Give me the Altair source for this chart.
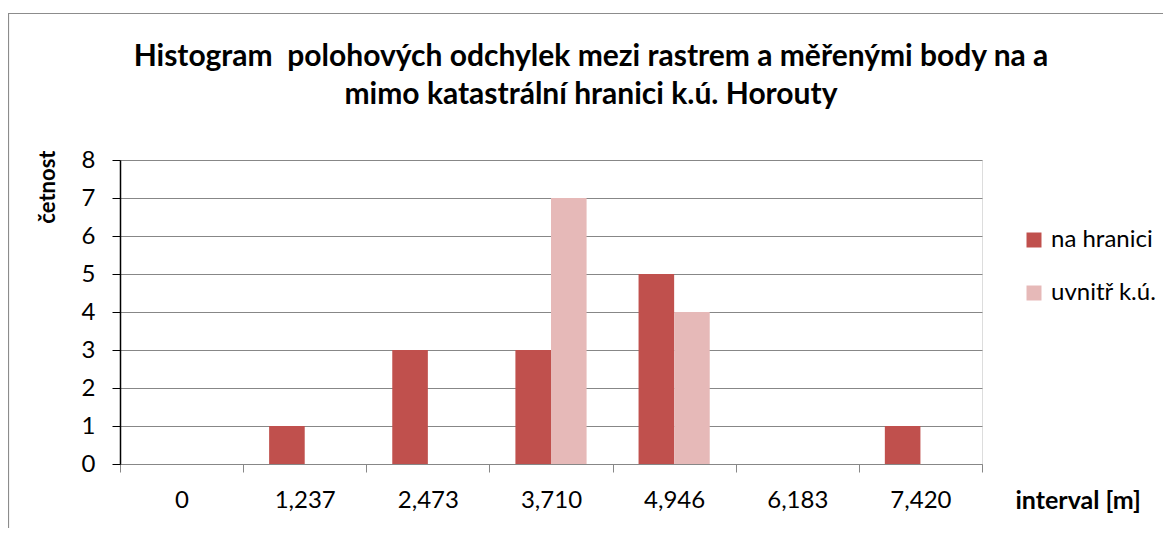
import altair as alt
import pandas as pd

categories = ["0", "1,237", "2,473", "3,710", "4,946", "6,183", "7,420"]
na_hranici = [0, 1, 3, 3, 5, 0, 1]
uvnitr = [0, 0, 0, 7, 4, 0, 0]
series = ["na hranici", "uvnitř k.ú."]
colors = ["#C0504D", "#E6B9B8"]
y_ticks = [0, 1, 2, 3, 4, 5, 6, 7, 8]
title_lines = [
    "Histogram\u00a0 polohových odchylek mezi rastrem a měřenými body na a",
    "mimo katastrální hranici k.ú. Horouty",
]

rows = []
for c, a, b in zip(categories, na_hranici, uvnitr):
    rows.append({"interval": c, "serie": series[0], "cetnost": a})
    rows.append({"interval": c, "serie": series[1], "cetnost": b})
df = pd.DataFrame(rows)

FONT = "Lato"
GRAY = "#878787"
LABEL_SIZE = 24
TITLE_SIZE = 25

bars = alt.Chart(df).mark_bar().encode(
    x=alt.X(
        "interval:N",
        sort=categories,
        scale=alt.Scale(paddingInner=0, paddingOuter=0),
        axis=alt.Axis(
            title="interval [m]",
            labelAngle=0,
            tickBand="extent",
            grid=False,
            domainColor=GRAY,
            domainWidth=1,
            tickColor=GRAY,
            tickSize=8,
            labelFont=FONT,
            labelFontSize=LABEL_SIZE,
            labelColor="#000000",
            labelBaseline="middle",
            labelPadding=28,
            titleFont=FONT,
            titleFontSize=TITLE_SIZE,
            titleFontWeight="bold",
            titleColor="#000000",
            titleX=895,
            titleY=36,
            titleAlign="left",
            titleBaseline="middle",
        ),
    ),
    xOffset=alt.XOffset(
        "serie:N", sort=series, scale=alt.Scale(paddingInner=0, paddingOuter=0.73)
    ),
    y=alt.Y(
        "cetnost:Q",
        scale=alt.Scale(domain=[0, 8], nice=False),
        axis=alt.Axis(
            title="četnost",
            values=y_ticks,
            format="d",
            grid=True,
            gridColor=GRAY,
            gridWidth=1,
            domainColor="#000000",
            domainWidth=1.5,
            tickColor="#000000",
            tickSize=8,
            labelFont=FONT,
            labelFontSize=LABEL_SIZE,
            labelColor="#000000",
            labelPadding=17,
            titleFont=FONT,
            titleFontSize=22,
            titleFontWeight="bold",
            titleColor="#000000",
            titleAngle=270,
            titleX=-73,
            titleY=-10,
            titleAlign="right",
            titleBaseline="middle",
        ),
    ),
    color=alt.Color(
        "serie:N",
        sort=series,
        scale=alt.Scale(domain=series, range=colors),
        legend=alt.Legend(
            title=None,
            orient="none",
            legendX=902,
            legendY=68,
            symbolType="square",
            symbolSize=225,
            symbolStrokeWidth=0,
            labelFont=FONT,
            labelFontSize=LABEL_SIZE,
            labelColor="#000000",
            labelOffset=5,
            rowPadding=29,
            padding=0,
        ),
    ),
)

one = pd.DataFrame({"b": [0]})

border = alt.Chart(one).mark_rect(
    fill=None, stroke="#8c8c8c", strokeWidth=1.2
).encode(
    x=alt.value(-111.5),
    x2=alt.value(1100),
    y=alt.value(-146.5),
    y2=alt.value(450),
)

title = alt.Chart(one).mark_text(
    font=FONT,
    fontSize=30,
    fontWeight="bold",
    color="#000000",
    align="center",
    baseline="middle",
    lineHeight=38,
).encode(
    text=alt.value(title_lines),
    x=alt.value(471),
    y=alt.value(-103),
)

chart = alt.layer(border, bars, title).properties(
    width=862,
    height=304,
    autosize=alt.AutoSizeParams(type="none"),
    padding={"left": 112, "top": 152, "right": 181, "bottom": 64},
).configure_view(stroke=None).configure(background="white")

chart.save("out.html", embed_options={"renderer": "svg", "actions": False})
